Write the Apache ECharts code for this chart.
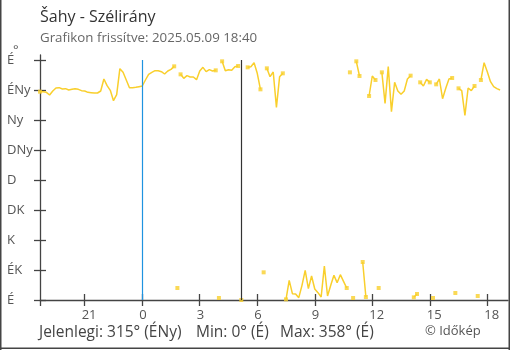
<!DOCTYPE html>
<html>
<head>
<meta charset="utf-8">
<script src="https://cdn.jsdelivr.net/npm/echarts@6/dist/echarts.min.js"></script>
<style>
  html, body { margin: 0; padding: 0; background: #fff; }
  #chart { width: 510px; height: 350px; }
</style>
</head>
<body>
<div id="chart"></div>
<script>
// Wind direction in degrees, one reading every 10 minutes from 18:40 (previous day) to 18:40
const startHour = -(5 + 20 / 60);   // 18:40, in hours relative to midnight
const stepHours = 10 / 60;
const direction = [
  312.5, 312.5, 311.5, 307.5, 313.5, 318, 318.5, 316.5, 317, 315,
  316, 317, 316, 314, 313.5, 311.5, 311, 310.5, 310.5, 313.5,
  331.5, 321.5, 314.5, 299, 308, 347, 341.5, 330, 318.5, 318.5,
  319, 320, 321, 330, 338.5, 341.5, 344, 344, 342.5, 339,
  343.5, 346, 350.5, 18, 338.5, 332.5, 336.5, 334.5, 334.5, 330.5,
  343.5, 349, 342.5, 345.5, 343.5, 344.5, 3, 358, 344, 345.5,
  344.5, 350, 351, 0, null, 349, 350, 356, 340, 316,
  41.5, 347.5, 335, 342, 289, 335, 340, 1, 29.5, 9.5,
  9, 3.5, 22, 44.5, 17, 36, 16.5, 11, 4.5, 51,
  6, 22, 37, 26, 38, 28, 18, 341.5, 3, 358,
  336, 57, 4.5, 306, 336, 330, 18, 341.5, 295, 350,
  282.5, 326.5, 313.5, 308.5, 313.5, 331.5, 336.5, 4, 9, 326.5,
  321, 331, 326.5, 3, 323.5, 331.5, 302, 317.5, 331.5, 333,
  10.5, 317.5, 314, 277, 318, 314, 321, 6, 330, 356,
  342.5, 327.5, 320, 317, 315
];

const dirTicks = [0, 45, 90, 135, 180, 225, 270, 315, 360];
const dirLabels = ['É', 'ÉK', 'K', 'DK', 'D', 'DNy', 'Ny', 'ÉNy', 'É'];
const hourTicks = [-3, 0, 3, 6, 9, 12, 15, 18];
const sunriseHour = 5 + 10 / 60;

const xMin = startHour;
const xMax = 19.08;
const gold = '#f9cf2c';
const axisColor = '#444';
const labelColor = '#555';
const font = 'Open Sans';

// Split the readings into drawable runs: a gap or a jump across North breaks the line
const joined = (a, b) => a != null && b != null && Math.abs(a - b) <= 180;
const lineData = [];
const runEnds = [];
direction.forEach((v, i) => {
  const t = startHour + i * stepHours;
  if (v == null) { lineData.push([t, null]); return; }
  const prev = direction[i - 1];
  if (prev != null && !joined(prev, v)) lineData.push([t - stepHours / 2, null]);
  lineData.push([t, v]);
  const prevOk = i > 0 && joined(prev, v);
  const nextOk = i === direction.length - 1 || joined(v, direction[i + 1]);
  if (!prevOk || !nextOk) runEnds.push([t, v]);
});

const chart = echarts.init(document.getElementById('chart'), null, { renderer: 'canvas' });

chart.setOption({
  animation: false,
  grid: { left: 40, right: 2, top: 55, bottom: 50, containLabel: false },
  xAxis: [
    {
      type: 'value', min: xMin, max: xMax, position: 'bottom',
      axisLine: { show: true, onZero: false, lineStyle: { color: axisColor, width: 1.3 } },
      axisTick: { show: true, length: 6, customValues: [xMin].concat(hourTicks), lineStyle: { color: axisColor, width: 1.3 } },
      axisLabel: {
        customValues: hourTicks.map(h => h - 0.16),
        formatter: v => String((Math.round(v) + 24) % 24),
        align: 'left', margin: 9, color: labelColor, fontSize: 13, fontFamily: font
      },
      splitLine: { show: false }
    },
    {
      type: 'value', min: xMin, max: xMax, position: 'bottom',
      axisLine: { show: false, onZero: false },
      axisTick: { show: true, inside: true, length: 6, customValues: hourTicks, lineStyle: { color: axisColor, width: 1.3 } },
      axisLabel: { show: false },
      splitLine: { show: false }
    }
  ],
  yAxis: [
    {
      type: 'value', min: 0, max: 367.5, position: 'left',
      axisLine: { show: true, onZero: false, lineStyle: { color: axisColor, width: 1.3 } },
      axisTick: { show: true, length: 6, customValues: dirTicks, lineStyle: { color: axisColor, width: 1.3 } },
      axisLabel: {
        customValues: dirTicks,
        formatter: v => dirLabels[dirTicks.indexOf(v)],
        align: 'left', margin: 33, color: labelColor, fontSize: 13, fontFamily: font
      },
      splitLine: { show: false }
    },
    {
      type: 'value', min: 0, max: 367.5, position: 'left',
      axisLine: { show: false, onZero: false },
      axisTick: { show: true, inside: true, length: 6, customValues: dirTicks, lineStyle: { color: axisColor, width: 1.3 } },
      axisLabel: { show: false },
      splitLine: { show: false }
    }
  ],
  series: [
    {
      // midnight and sunrise markers
      type: 'line', data: [], z: 1, silent: true,
      markLine: {
        silent: true, symbol: 'none', label: { show: false }, animation: false,
        data: [
          [{ coord: [0, 0], lineStyle: { color: '#1f93e0', width: 1.2, type: 'solid' } }, { coord: [0, 360] }],
          [{ coord: [sunriseHour, 0], lineStyle: { color: '#333', width: 1.2, type: 'solid' } }, { coord: [sunriseHour, 360] }]
        ]
      }
    },
    {
      name: 'Szélirány', type: 'line', data: lineData, z: 3,
      showSymbol: false, symbol: 'none', connectNulls: false, clip: true,
      lineStyle: { color: gold, width: 1.5 }
    },
    {
      type: 'scatter', data: runEnds, z: 4, symbol: 'rect', symbolSize: 4,
      itemStyle: { color: gold }, clip: false
    }
  ],
  graphic: [
    { type: 'text', left: 40, top: 9, style: { text: 'Šahy - Szélirány', fill: '#333', font: '16px "Open Sans"' } },
    { type: 'text', left: 40, top: 32, style: { text: 'Grafikon frissítve: 2025.05.09 18:40', fill: '#666', font: '13.3px "Open Sans"' } },
    { type: 'text', left: 13, top: 44, style: { text: '°', fill: labelColor, font: '13px "Open Sans"' } },
    { type: 'text', left: 39, top: 325, style: { text: 'Jelenlegi: 315° (ÉNy)', fill: '#444', font: '15.5px "Open Sans"' } },
    { type: 'text', left: 196, top: 325, style: { text: 'Min: 0° (É)', fill: '#444', font: '15.5px "Open Sans"' } },
    { type: 'text', left: 280, top: 325, style: { text: 'Max: 358° (É)', fill: '#444', font: '15.5px "Open Sans"' } },
    { type: 'text', left: 425, top: 325, style: { text: '© Időkép', fill: '#555', font: '13px "Open Sans"' } },
    { type: 'rect', shape: { x: 0, y: 0, width: 1.5, height: 350 }, style: { fill: '#444' } },
    { type: 'rect', shape: { x: 508.5, y: 0, width: 1.5, height: 350 }, style: { fill: '#444' } },
    { type: 'rect', shape: { x: 0, y: 347.5, width: 510, height: 1.5 }, style: { fill: '#444' } }
  ]
});
</script>
</body>
</html>
